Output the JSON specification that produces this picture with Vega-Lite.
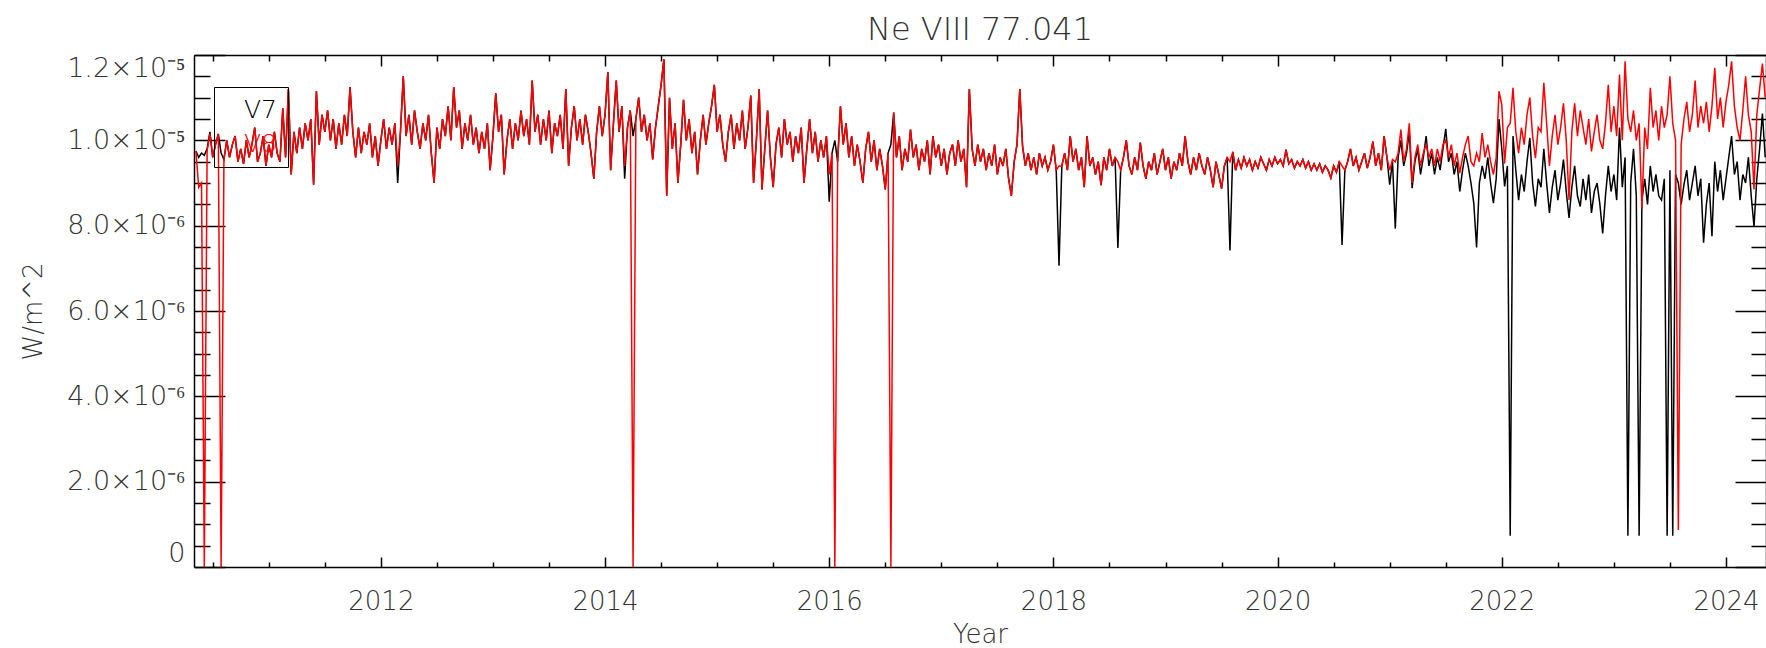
{
"$schema": "https://vega.github.io/schema/vega-lite/v6.json",
"autosize": {"type": "none"},
"padding": {"left": 194, "top": 55, "right": 0, "bottom": 81},
"width": 1572,
"height": 512,
"background": "white",
"config": {"view": {"stroke": null}},
"title": {"text": "Ne VIII 77.041", "fontSize": 32, "font": "DejaVu Sans", "fontWeight": 200, "color": "#333", "anchor": "middle", "offset": 7},
"data": {"values": [
{"t":2010.35,"V7":9.75,"V8":9.75},{"t":2010.375,"V7":9.6,"V8":8.9},{"t":2010.4,"V7":9.7,"V8":9.0},{"t":2010.425,"V7":9.65,"V8":0},{"t":2010.45,"V7":9.8,"V8":9.75},{"t":2010.475,"V7":10.2,"V8":10.15},{"t":2010.5,"V7":9.6,"V8":9.6},{"t":2010.525,"V7":9.9,"V8":9.9},{"t":2010.55,"V7":10.15,"V8":10.15},{"t":2010.575,"V7":9.7,"V8":0},
{"t":2010.6,"V7":9.55,"V8":9.55},{"t":2010.625,"V7":10.0,"V8":10.0},{"t":2010.65,"V7":9.6,"V8":9.6},{"t":2010.675,"V7":9.9,"V8":9.9},{"t":2010.7,"V7":10.1,"V8":10.1},{"t":2010.725,"V7":9.5,"V8":9.5},{"t":2010.75,"V7":9.8,"V8":9.8},{"t":2010.775,"V7":9.45,"V8":9.45},{"t":2010.8,"V7":10.0,"V8":10.0},{"t":2010.825,"V7":9.6,"V8":9.6},
{"t":2010.85,"V7":9.9,"V8":9.9},{"t":2010.875,"V7":10.3,"V8":10.3},{"t":2010.9,"V7":9.5,"V8":9.5},{"t":2010.925,"V7":9.7,"V8":9.7},{"t":2010.95,"V7":10.1,"V8":10.1},{"t":2010.975,"V7":9.4,"V8":9.4},{"t":2011.0,"V7":9.9,"V8":9.9},{"t":2011.025,"V7":9.6,"V8":9.6},{"t":2011.05,"V7":10.2,"V8":10.2},{"t":2011.075,"V7":9.7,"V8":9.7},
{"t":2011.1,"V7":9.5,"V8":9.5},{"t":2011.125,"V7":10.75,"V8":10.75},{"t":2011.15,"V7":9.6,"V8":9.6},{"t":2011.175,"V7":11.2,"V8":11.2},{"t":2011.2,"V7":9.2,"V8":9.2},{"t":2011.225,"V7":10.2,"V8":10.2},{"t":2011.25,"V7":9.7,"V8":9.7},{"t":2011.275,"V7":10.3,"V8":10.3},{"t":2011.3,"V7":9.8,"V8":9.8},{"t":2011.325,"V7":10.4,"V8":10.4},
{"t":2011.35,"V7":10.0,"V8":10.0},{"t":2011.375,"V7":10.5,"V8":10.5},{"t":2011.4,"V7":8.96,"V8":8.96},{"t":2011.425,"V7":11.15,"V8":11.15},{"t":2011.45,"V7":9.9,"V8":9.9},{"t":2011.475,"V7":10.6,"V8":10.6},{"t":2011.5,"V7":10.2,"V8":10.2},{"t":2011.525,"V7":10.7,"V8":10.7},{"t":2011.55,"V7":10.0,"V8":10.0},{"t":2011.575,"V7":10.5,"V8":10.5},
{"t":2011.6,"V7":9.8,"V8":9.8},{"t":2011.625,"V7":10.4,"V8":10.4},{"t":2011.65,"V7":9.9,"V8":9.9},{"t":2011.675,"V7":10.6,"V8":10.6},{"t":2011.7,"V7":10.1,"V8":10.1},{"t":2011.725,"V7":11.25,"V8":11.25},{"t":2011.75,"V7":10.2,"V8":10.2},{"t":2011.775,"V7":9.6,"V8":9.6},{"t":2011.8,"V7":10.3,"V8":10.3},{"t":2011.825,"V7":9.7,"V8":9.7},
{"t":2011.85,"V7":10.2,"V8":10.2},{"t":2011.875,"V7":9.9,"V8":9.9},{"t":2011.9,"V7":10.4,"V8":10.4},{"t":2011.925,"V7":9.6,"V8":9.6},{"t":2011.95,"V7":10.1,"V8":10.1},{"t":2011.975,"V7":9.4,"V8":9.4},{"t":2012.0,"V7":10.0,"V8":10.0},{"t":2012.025,"V7":10.5,"V8":10.5},{"t":2012.05,"V7":9.8,"V8":9.8},{"t":2012.075,"V7":10.3,"V8":10.3},
{"t":2012.1,"V7":9.9,"V8":9.9},{"t":2012.125,"V7":10.4,"V8":10.4},{"t":2012.15,"V7":9.0,"V8":9.4},{"t":2012.175,"V7":10.2,"V8":10.2},{"t":2012.2,"V7":11.5,"V8":11.5},{"t":2012.225,"V7":10.1,"V8":10.1},{"t":2012.25,"V7":10.6,"V8":10.6},{"t":2012.275,"V7":9.9,"V8":9.9},{"t":2012.3,"V7":10.7,"V8":10.7},{"t":2012.325,"V7":10.2,"V8":10.2},
{"t":2012.35,"V7":9.8,"V8":9.8},{"t":2012.375,"V7":10.4,"V8":10.4},{"t":2012.4,"V7":10.0,"V8":10.0},{"t":2012.425,"V7":10.6,"V8":10.6},{"t":2012.45,"V7":9.7,"V8":9.7},{"t":2012.475,"V7":9.0,"V8":9.0},{"t":2012.5,"V7":10.3,"V8":10.3},{"t":2012.525,"V7":9.8,"V8":9.8},{"t":2012.55,"V7":10.5,"V8":10.5},{"t":2012.575,"V7":10.1,"V8":10.1},
{"t":2012.6,"V7":10.8,"V8":10.8},{"t":2012.625,"V7":10.0,"V8":10.0},{"t":2012.65,"V7":11.25,"V8":11.25},{"t":2012.675,"V7":10.3,"V8":10.3},{"t":2012.7,"V7":10.7,"V8":10.7},{"t":2012.725,"V7":9.8,"V8":9.8},{"t":2012.75,"V7":10.4,"V8":10.4},{"t":2012.775,"V7":10.0,"V8":10.0},{"t":2012.8,"V7":10.6,"V8":10.6},{"t":2012.825,"V7":9.9,"V8":9.9},
{"t":2012.85,"V7":10.3,"V8":10.3},{"t":2012.875,"V7":9.7,"V8":9.7},{"t":2012.9,"V7":10.2,"V8":10.2},{"t":2012.925,"V7":9.8,"V8":9.8},{"t":2012.95,"V7":10.4,"V8":10.4},{"t":2012.975,"V7":9.3,"V8":9.3},{"t":2013.0,"V7":10.1,"V8":10.1},{"t":2013.025,"V7":11.1,"V8":11.1},{"t":2013.05,"V7":10.2,"V8":10.2},{"t":2013.075,"V7":10.6,"V8":10.6},
{"t":2013.1,"V7":9.2,"V8":9.2},{"t":2013.125,"V7":10.0,"V8":10.0},{"t":2013.15,"V7":10.5,"V8":10.5},{"t":2013.175,"V7":9.8,"V8":9.8},{"t":2013.2,"V7":10.4,"V8":10.4},{"t":2013.225,"V7":10.0,"V8":10.0},{"t":2013.25,"V7":10.7,"V8":10.7},{"t":2013.275,"V7":10.1,"V8":10.1},{"t":2013.3,"V7":10.5,"V8":10.5},{"t":2013.325,"V7":9.9,"V8":9.9},
{"t":2013.35,"V7":11.4,"V8":11.4},{"t":2013.375,"V7":10.2,"V8":10.2},{"t":2013.4,"V7":10.6,"V8":10.6},{"t":2013.425,"V7":9.9,"V8":9.9},{"t":2013.45,"V7":10.5,"V8":10.5},{"t":2013.475,"V7":10.0,"V8":10.0},{"t":2013.5,"V7":10.7,"V8":10.7},{"t":2013.525,"V7":9.7,"V8":9.7},{"t":2013.55,"V7":10.4,"V8":10.4},{"t":2013.575,"V7":10.1,"V8":10.1},
{"t":2013.6,"V7":10.6,"V8":10.6},{"t":2013.625,"V7":9.8,"V8":9.8},{"t":2013.65,"V7":11.2,"V8":11.2},{"t":2013.675,"V7":9.4,"V8":9.4},{"t":2013.7,"V7":10.3,"V8":10.3},{"t":2013.725,"V7":10.8,"V8":10.8},{"t":2013.75,"V7":10.0,"V8":10.0},{"t":2013.775,"V7":10.5,"V8":10.5},{"t":2013.8,"V7":9.9,"V8":9.9},{"t":2013.825,"V7":10.6,"V8":10.6},
{"t":2013.85,"V7":10.2,"V8":10.2},{"t":2013.875,"V7":9.7,"V8":9.7},{"t":2013.9,"V7":9.1,"V8":9.1},{"t":2013.925,"V7":10.2,"V8":10.2},{"t":2013.95,"V7":10.8,"V8":10.8},{"t":2013.975,"V7":10.1,"V8":10.1},{"t":2014.0,"V7":10.6,"V8":10.6},{"t":2014.025,"V7":11.6,"V8":11.6},{"t":2014.05,"V7":9.3,"V8":9.3},{"t":2014.075,"V7":10.4,"V8":10.4},
{"t":2014.1,"V7":11.4,"V8":11.4},{"t":2014.125,"V7":10.2,"V8":10.2},{"t":2014.15,"V7":10.8,"V8":10.8},{"t":2014.175,"V7":9.1,"V8":9.4},{"t":2014.2,"V7":10.3,"V8":10.3},{"t":2014.225,"V7":10.7,"V8":10.7},{"t":2014.25,"V7":10.1,"V8":0},{"t":2014.275,"V7":10.5,"V8":10.5},{"t":2014.3,"V7":11.0,"V8":11.0},{"t":2014.325,"V7":10.2,"V8":10.2},
{"t":2014.35,"V7":10.6,"V8":10.6},{"t":2014.375,"V7":10.0,"V8":10.0},{"t":2014.4,"V7":10.4,"V8":10.4},{"t":2014.425,"V7":9.55,"V8":9.55},{"t":2014.45,"V7":10.3,"V8":10.3},{"t":2014.475,"V7":10.8,"V8":10.8},{"t":2014.5,"V7":11.3,"V8":11.3},{"t":2014.525,"V7":11.9,"V8":11.9},{"t":2014.55,"V7":8.7,"V8":8.7},{"t":2014.575,"V7":11.0,"V8":11.0},
{"t":2014.6,"V7":9.8,"V8":9.8},{"t":2014.625,"V7":10.4,"V8":10.4},{"t":2014.65,"V7":9.0,"V8":9.0},{"t":2014.675,"V7":9.9,"V8":9.9},{"t":2014.7,"V7":10.95,"V8":10.95},{"t":2014.725,"V7":10.0,"V8":10.0},{"t":2014.75,"V7":10.5,"V8":10.5},{"t":2014.775,"V7":9.7,"V8":9.7},{"t":2014.8,"V7":10.2,"V8":10.2},{"t":2014.825,"V7":9.2,"V8":9.2},
{"t":2014.85,"V7":10.0,"V8":10.0},{"t":2014.875,"V7":10.6,"V8":10.6},{"t":2014.9,"V7":9.9,"V8":9.9},{"t":2014.925,"V7":10.4,"V8":10.4},{"t":2014.95,"V7":10.8,"V8":10.8},{"t":2014.975,"V7":11.3,"V8":11.3},{"t":2015.0,"V7":10.2,"V8":10.2},{"t":2015.025,"V7":10.6,"V8":10.6},{"t":2015.05,"V7":9.9,"V8":9.9},{"t":2015.075,"V7":9.5,"V8":9.5},
{"t":2015.1,"V7":10.2,"V8":10.2},{"t":2015.125,"V7":10.6,"V8":10.6},{"t":2015.15,"V7":9.8,"V8":9.8},{"t":2015.175,"V7":10.4,"V8":10.4},{"t":2015.2,"V7":10.0,"V8":10.0},{"t":2015.225,"V7":10.7,"V8":10.7},{"t":2015.25,"V7":9.8,"V8":9.8},{"t":2015.275,"V7":10.3,"V8":10.3},{"t":2015.3,"V7":11.05,"V8":11.05},{"t":2015.325,"V7":9.0,"V8":9.0},
{"t":2015.35,"V7":10.0,"V8":10.0},{"t":2015.375,"V7":11.2,"V8":11.2},{"t":2015.4,"V7":8.85,"V8":8.85},{"t":2015.425,"V7":9.8,"V8":9.8},{"t":2015.45,"V7":10.7,"V8":10.7},{"t":2015.475,"V7":9.6,"V8":9.6},{"t":2015.5,"V7":8.9,"V8":8.9},{"t":2015.525,"V7":9.9,"V8":9.9},{"t":2015.55,"V7":10.3,"V8":10.3},{"t":2015.575,"V7":9.6,"V8":9.6},
{"t":2015.6,"V7":10.5,"V8":10.5},{"t":2015.625,"V7":9.9,"V8":9.9},{"t":2015.65,"V7":10.2,"V8":10.2},{"t":2015.675,"V7":9.5,"V8":9.5},{"t":2015.7,"V7":10.1,"V8":10.1},{"t":2015.725,"V7":9.7,"V8":9.7},{"t":2015.75,"V7":10.3,"V8":10.3},{"t":2015.775,"V7":9.0,"V8":9.0},{"t":2015.8,"V7":9.8,"V8":9.8},{"t":2015.825,"V7":10.5,"V8":10.5},
{"t":2015.85,"V7":9.7,"V8":9.7},{"t":2015.875,"V7":10.2,"V8":10.2},{"t":2015.9,"V7":9.5,"V8":9.5},{"t":2015.925,"V7":10.0,"V8":10.0},{"t":2015.95,"V7":9.6,"V8":9.6},{"t":2015.975,"V7":10.1,"V8":10.1},{"t":2016.0,"V7":8.56,"V8":9.2},{"t":2016.025,"V7":9.7,"V8":9.7},{"t":2016.05,"V7":10.0,"V8":0},{"t":2016.075,"V7":9.5,"V8":9.5},
{"t":2016.1,"V7":10.8,"V8":10.8},{"t":2016.125,"V7":9.9,"V8":9.9},{"t":2016.15,"V7":10.4,"V8":10.4},{"t":2016.175,"V7":9.6,"V8":9.6},{"t":2016.2,"V7":10.1,"V8":10.1},{"t":2016.225,"V7":9.4,"V8":9.4},{"t":2016.25,"V7":9.9,"V8":9.9},{"t":2016.275,"V7":9.5,"V8":9.5},{"t":2016.3,"V7":9.0,"V8":9.0},{"t":2016.325,"V7":9.8,"V8":9.8},
{"t":2016.35,"V7":10.2,"V8":10.2},{"t":2016.375,"V7":9.5,"V8":9.5},{"t":2016.4,"V7":10.0,"V8":10.0},{"t":2016.425,"V7":9.3,"V8":9.3},{"t":2016.45,"V7":9.8,"V8":9.8},{"t":2016.475,"V7":9.4,"V8":9.4},{"t":2016.5,"V7":8.85,"V8":8.85},{"t":2016.525,"V7":9.7,"V8":9.7},{"t":2016.55,"V7":9.9,"V8":0},{"t":2016.575,"V7":10.65,"V8":10.65},
{"t":2016.6,"V7":9.6,"V8":9.6},{"t":2016.625,"V7":10.1,"V8":10.1},{"t":2016.65,"V7":9.3,"V8":9.3},{"t":2016.675,"V7":9.8,"V8":9.8},{"t":2016.7,"V7":9.5,"V8":9.5},{"t":2016.725,"V7":10.25,"V8":10.25},{"t":2016.75,"V7":9.6,"V8":9.6},{"t":2016.775,"V7":9.9,"V8":9.9},{"t":2016.8,"V7":9.3,"V8":9.3},{"t":2016.825,"V7":9.8,"V8":9.8},
{"t":2016.85,"V7":9.5,"V8":9.5},{"t":2016.875,"V7":10.0,"V8":10.0},{"t":2016.9,"V7":9.2,"V8":9.2},{"t":2016.925,"V7":10.1,"V8":10.1},{"t":2016.95,"V7":9.6,"V8":9.6},{"t":2016.975,"V7":9.9,"V8":9.9},{"t":2017.0,"V7":9.4,"V8":9.4},{"t":2017.025,"V7":9.8,"V8":9.8},{"t":2017.05,"V7":9.2,"V8":9.2},{"t":2017.075,"V7":9.7,"V8":9.7},
{"t":2017.1,"V7":9.9,"V8":9.9},{"t":2017.125,"V7":9.4,"V8":9.4},{"t":2017.15,"V7":10.0,"V8":10.0},{"t":2017.175,"V7":9.5,"V8":9.5},{"t":2017.2,"V7":9.8,"V8":9.8},{"t":2017.225,"V7":8.9,"V8":8.9},{"t":2017.25,"V7":11.2,"V8":11.2},{"t":2017.275,"V7":9.8,"V8":9.8},{"t":2017.3,"V7":9.4,"V8":9.4},{"t":2017.325,"V7":9.9,"V8":9.9},
{"t":2017.35,"V7":9.5,"V8":9.5},{"t":2017.375,"V7":9.8,"V8":9.8},{"t":2017.4,"V7":9.3,"V8":9.3},{"t":2017.425,"V7":9.7,"V8":9.7},{"t":2017.45,"V7":9.4,"V8":9.4},{"t":2017.475,"V7":9.9,"V8":9.9},{"t":2017.5,"V7":9.2,"V8":9.2},{"t":2017.525,"V7":9.6,"V8":9.6},{"t":2017.55,"V7":9.4,"V8":9.4},{"t":2017.575,"V7":9.8,"V8":9.8},
{"t":2017.6,"V7":9.1,"V8":9.1},{"t":2017.625,"V7":8.7,"V8":8.7},{"t":2017.65,"V7":9.5,"V8":9.5},{"t":2017.675,"V7":9.9,"V8":9.9},{"t":2017.7,"V7":11.2,"V8":11.2},{"t":2017.725,"V7":9.85,"V8":9.85},{"t":2017.75,"V7":9.4,"V8":9.4},{"t":2017.775,"V7":9.7,"V8":9.7},{"t":2017.8,"V7":9.3,"V8":9.3},{"t":2017.825,"V7":9.6,"V8":9.6},
{"t":2017.85,"V7":9.2,"V8":9.2},{"t":2017.875,"V7":9.7,"V8":9.7},{"t":2017.9,"V7":9.4,"V8":9.4},{"t":2017.925,"V7":9.6,"V8":9.6},{"t":2017.95,"V7":9.3,"V8":9.3},{"t":2017.975,"V7":9.5,"V8":9.5},{"t":2018.0,"V7":9.9,"V8":9.9},{"t":2018.025,"V7":9.3,"V8":9.3},{"t":2018.05,"V7":7.06,"V8":9.4},{"t":2018.075,"V7":9.4,"V8":9.4},
{"t":2018.1,"V7":9.7,"V8":9.7},{"t":2018.125,"V7":9.3,"V8":9.3},{"t":2018.15,"V7":10.1,"V8":10.1},{"t":2018.175,"V7":9.5,"V8":9.5},{"t":2018.2,"V7":9.8,"V8":9.8},{"t":2018.225,"V7":9.3,"V8":9.3},{"t":2018.25,"V7":9.6,"V8":9.6},{"t":2018.275,"V7":8.9,"V8":8.9},{"t":2018.3,"V7":10.1,"V8":10.1},{"t":2018.325,"V7":9.4,"V8":9.4},
{"t":2018.35,"V7":9.6,"V8":9.6},{"t":2018.375,"V7":9.2,"V8":9.2},{"t":2018.4,"V7":9.5,"V8":9.5},{"t":2018.425,"V7":8.95,"V8":8.95},{"t":2018.45,"V7":9.6,"V8":9.6},{"t":2018.475,"V7":9.3,"V8":9.3},{"t":2018.5,"V7":9.8,"V8":9.8},{"t":2018.525,"V7":9.4,"V8":9.4},{"t":2018.55,"V7":9.6,"V8":9.6},{"t":2018.575,"V7":7.48,"V8":9.5},
{"t":2018.6,"V7":9.3,"V8":9.3},{"t":2018.625,"V7":9.6,"V8":9.6},{"t":2018.65,"V7":10.0,"V8":10.0},{"t":2018.675,"V7":9.4,"V8":9.4},{"t":2018.7,"V7":9.2,"V8":9.2},{"t":2018.725,"V7":9.6,"V8":9.6},{"t":2018.75,"V7":9.3,"V8":9.3},{"t":2018.775,"V7":9.95,"V8":9.95},{"t":2018.8,"V7":9.4,"V8":9.4},{"t":2018.825,"V7":9.1,"V8":9.1},
{"t":2018.85,"V7":9.5,"V8":9.5},{"t":2018.875,"V7":9.3,"V8":9.3},{"t":2018.9,"V7":9.7,"V8":9.7},{"t":2018.925,"V7":9.2,"V8":9.2},{"t":2018.95,"V7":9.5,"V8":9.5},{"t":2018.975,"V7":9.8,"V8":9.8},{"t":2019.0,"V7":9.3,"V8":9.3},{"t":2019.025,"V7":9.6,"V8":9.6},{"t":2019.05,"V7":9.1,"V8":9.1},{"t":2019.075,"V7":9.5,"V8":9.5},
{"t":2019.1,"V7":9.3,"V8":9.3},{"t":2019.125,"V7":9.7,"V8":9.7},{"t":2019.15,"V7":9.4,"V8":9.4},{"t":2019.175,"V7":10.1,"V8":10.1},{"t":2019.2,"V7":9.5,"V8":9.5},{"t":2019.225,"V7":9.2,"V8":9.2},{"t":2019.25,"V7":9.6,"V8":9.6},{"t":2019.275,"V7":9.3,"V8":9.3},{"t":2019.3,"V7":9.7,"V8":9.7},{"t":2019.325,"V7":9.4,"V8":9.4},
{"t":2019.35,"V7":9.2,"V8":9.2},{"t":2019.375,"V7":9.6,"V8":9.6},{"t":2019.4,"V7":9.3,"V8":9.3},{"t":2019.425,"V7":8.9,"V8":8.9},{"t":2019.45,"V7":9.5,"V8":9.5},{"t":2019.475,"V7":9.2,"V8":9.2},{"t":2019.5,"V7":8.87,"V8":8.87},{"t":2019.525,"V7":9.4,"V8":9.4},{"t":2019.55,"V7":9.6,"V8":9.6},{"t":2019.575,"V7":7.42,"V8":9.5},
{"t":2019.6,"V7":9.73,"V8":9.73},{"t":2019.625,"V7":9.3,"V8":9.3},{"t":2019.65,"V7":9.55,"V8":9.55},{"t":2019.675,"V7":9.35,"V8":9.35},{"t":2019.7,"V7":9.6,"V8":9.6},{"t":2019.725,"V7":9.4,"V8":9.4},{"t":2019.75,"V7":9.55,"V8":9.55},{"t":2019.775,"V7":9.3,"V8":9.3},{"t":2019.8,"V7":9.5,"V8":9.5},{"t":2019.825,"V7":9.35,"V8":9.35},
{"t":2019.85,"V7":9.6,"V8":9.6},{"t":2019.875,"V7":9.45,"V8":9.45},{"t":2019.9,"V7":9.3,"V8":9.3},{"t":2019.925,"V7":9.55,"V8":9.55},{"t":2019.95,"V7":9.4,"V8":9.4},{"t":2019.975,"V7":9.6,"V8":9.6},{"t":2020.0,"V7":9.45,"V8":9.45},{"t":2020.025,"V7":9.55,"V8":9.55},{"t":2020.05,"V7":9.4,"V8":9.4},{"t":2020.075,"V7":9.78,"V8":9.78},
{"t":2020.1,"V7":9.45,"V8":9.45},{"t":2020.125,"V7":9.55,"V8":9.55},{"t":2020.15,"V7":9.35,"V8":9.35},{"t":2020.175,"V7":9.5,"V8":9.5},{"t":2020.2,"V7":9.4,"V8":9.4},{"t":2020.225,"V7":9.55,"V8":9.55},{"t":2020.25,"V7":9.35,"V8":9.35},{"t":2020.275,"V7":9.5,"V8":9.5},{"t":2020.3,"V7":9.3,"V8":9.3},{"t":2020.325,"V7":9.45,"V8":9.45},
{"t":2020.35,"V7":9.3,"V8":9.3},{"t":2020.375,"V7":9.45,"V8":9.45},{"t":2020.4,"V7":9.25,"V8":9.25},{"t":2020.425,"V7":9.4,"V8":9.4},{"t":2020.45,"V7":9.3,"V8":9.3},{"t":2020.475,"V7":9.12,"V8":9.12},{"t":2020.5,"V7":9.4,"V8":9.4},{"t":2020.525,"V7":9.25,"V8":9.25},{"t":2020.55,"V7":9.5,"V8":9.5},{"t":2020.575,"V7":7.55,"V8":9.4},
{"t":2020.6,"V7":9.3,"V8":9.3},{"t":2020.625,"V7":9.5,"V8":9.5},{"t":2020.65,"V7":9.8,"V8":9.8},{"t":2020.675,"V7":9.4,"V8":9.4},{"t":2020.7,"V7":9.6,"V8":9.6},{"t":2020.725,"V7":9.3,"V8":9.3},{"t":2020.75,"V7":9.5,"V8":9.5},{"t":2020.775,"V7":9.7,"V8":9.7},{"t":2020.8,"V7":9.35,"V8":9.35},{"t":2020.825,"V7":9.6,"V8":9.6},
{"t":2020.85,"V7":9.97,"V8":9.97},{"t":2020.875,"V7":9.4,"V8":9.4},{"t":2020.9,"V7":9.7,"V8":9.7},{"t":2020.925,"V7":9.3,"V8":9.3},{"t":2020.95,"V7":10.1,"V8":10.1},{"t":2020.975,"V7":9.6,"V8":9.6},{"t":2021.0,"V7":8.96,"V8":9.3},{"t":2021.025,"V7":9.5,"V8":9.55},{"t":2021.05,"V7":7.93,"V8":9.5},{"t":2021.075,"V7":9.6,"V8":9.7},
{"t":2021.1,"V7":10.0,"V8":10.25},{"t":2021.125,"V7":9.4,"V8":9.5},{"t":2021.15,"V7":9.7,"V8":9.8},{"t":2021.175,"V7":10.2,"V8":10.4},{"t":2021.2,"V7":8.88,"V8":9.0},{"t":2021.225,"V7":9.5,"V8":9.6},{"t":2021.25,"V7":9.8,"V8":9.9},{"t":2021.275,"V7":9.2,"V8":9.4},{"t":2021.3,"V7":9.6,"V8":9.7},{"t":2021.325,"V7":10.1,"V8":9.9},
{"t":2021.35,"V7":9.4,"V8":9.6},{"t":2021.375,"V7":9.7,"V8":9.8},{"t":2021.4,"V7":9.2,"V8":9.4},{"t":2021.425,"V7":9.6,"V8":9.8},{"t":2021.45,"V7":9.3,"V8":9.5},{"t":2021.475,"V7":9.8,"V8":9.9},{"t":2021.5,"V7":10.27,"V8":10.0},{"t":2021.525,"V7":9.5,"V8":9.6},{"t":2021.55,"V7":9.7,"V8":9.9},{"t":2021.575,"V7":9.2,"V8":9.4},
{"t":2021.6,"V7":9.5,"V8":9.7},{"t":2021.625,"V7":8.8,"V8":9.23},{"t":2021.65,"V7":9.3,"V8":9.6},{"t":2021.675,"V7":9.7,"V8":9.9},{"t":2021.7,"V7":9.4,"V8":10.1},{"t":2021.725,"V7":9.0,"V8":9.5},{"t":2021.75,"V7":8.53,"V8":9.4},{"t":2021.775,"V7":7.49,"V8":9.7},{"t":2021.8,"V7":9.0,"V8":9.5},{"t":2021.825,"V7":9.4,"V8":10.17},
{"t":2021.85,"V7":9.1,"V8":9.6},{"t":2021.875,"V7":9.6,"V8":9.9},{"t":2021.9,"V7":9.0,"V8":9.5},{"t":2021.925,"V7":8.53,"V8":9.2},{"t":2021.95,"V7":9.1,"V8":9.6},{"t":2021.975,"V7":10.5,"V8":11.15},{"t":2022.0,"V7":9.8,"V8":10.83},{"t":2022.025,"V7":8.92,"V8":9.46},{"t":2022.05,"V7":9.4,"V8":10.3},{"t":2022.075,"V7":0.73,"V8":10.4},
{"t":2022.1,"V7":10.1,"V8":11.23},{"t":2022.125,"V7":9.3,"V8":10.2},{"t":2022.15,"V7":8.6,"V8":9.7},{"t":2022.175,"V7":9.2,"V8":10.3},{"t":2022.2,"V7":8.8,"V8":9.9},{"t":2022.225,"V7":9.5,"V8":10.6},{"t":2022.25,"V7":10.06,"V8":11.0},{"t":2022.275,"V7":9.0,"V8":10.1},{"t":2022.3,"V7":8.45,"V8":9.58},{"t":2022.325,"V7":9.1,"V8":10.3},
{"t":2022.35,"V7":8.9,"V8":10.2},{"t":2022.375,"V7":9.8,"V8":11.35},{"t":2022.4,"V7":9.0,"V8":10.4},{"t":2022.425,"V7":8.3,"V8":9.4},{"t":2022.45,"V7":8.9,"V8":10.1},{"t":2022.475,"V7":9.3,"V8":10.6},{"t":2022.5,"V7":8.6,"V8":9.9},{"t":2022.525,"V7":9.0,"V8":10.3},{"t":2022.55,"V7":9.55,"V8":10.87},{"t":2022.575,"V7":8.8,"V8":10.0},
{"t":2022.6,"V7":8.18,"V8":8.6},{"t":2022.625,"V7":8.9,"V8":10.2},{"t":2022.65,"V7":9.4,"V8":10.87},{"t":2022.675,"V7":8.7,"V8":10.1},{"t":2022.7,"V7":8.45,"V8":10.7},{"t":2022.725,"V7":9.1,"V8":10.3},{"t":2022.75,"V7":8.6,"V8":9.9},{"t":2022.775,"V7":9.2,"V8":10.5},{"t":2022.8,"V7":8.3,"V8":9.74},{"t":2022.825,"V7":8.8,"V8":10.2},
{"t":2022.85,"V7":9.0,"V8":10.6},{"t":2022.875,"V7":8.5,"V8":10.0},{"t":2022.9,"V7":7.82,"V8":9.8},{"t":2022.925,"V7":8.7,"V8":10.4},{"t":2022.95,"V7":9.4,"V8":11.3},{"t":2022.975,"V7":8.8,"V8":10.2},{"t":2023.0,"V7":9.2,"V8":10.8},{"t":2023.025,"V7":8.6,"V8":10.1},{"t":2023.05,"V7":10.3,"V8":11.54},{"t":2023.075,"V7":8.9,"V8":10.0},
{"t":2023.1,"V7":9.6,"V8":11.85},{"t":2023.125,"V7":0.73,"V8":10.5},{"t":2023.15,"V7":9.0,"V8":10.2},{"t":2023.175,"V7":9.8,"V8":10.7},{"t":2023.2,"V7":8.7,"V8":10.0},{"t":2023.225,"V7":0.73,"V8":10.4},{"t":2023.25,"V7":8.6,"V8":8.4},{"t":2023.275,"V7":9.1,"V8":10.3},{"t":2023.3,"V7":8.5,"V8":9.8},{"t":2023.325,"V7":9.4,"V8":11.23},
{"t":2023.35,"V7":8.8,"V8":10.3},{"t":2023.375,"V7":9.2,"V8":10.7},{"t":2023.4,"V7":8.7,"V8":10.0},{"t":2023.425,"V7":8.6,"V8":10.8},{"t":2023.45,"V7":9.1,"V8":10.3},{"t":2023.475,"V7":0.73,"V8":10.6},{"t":2023.5,"V7":9.3,"V8":11.5},{"t":2023.525,"V7":0.73,"V8":10.4},{"t":2023.55,"V7":9.2,"V8":10.0},{"t":2023.575,"V7":9.0,"V8":0.87},
{"t":2023.6,"V7":8.5,"V8":9.9},{"t":2023.625,"V7":8.96,"V8":10.5},{"t":2023.65,"V7":9.3,"V8":10.9},{"t":2023.675,"V7":8.6,"V8":10.2},{"t":2023.7,"V7":9.0,"V8":10.6},{"t":2023.725,"V7":9.4,"V8":11.4},{"t":2023.75,"V7":8.7,"V8":10.3},{"t":2023.775,"V7":9.1,"V8":10.8},{"t":2023.8,"V7":7.6,"V8":10.4},{"t":2023.825,"V7":8.5,"V8":10.9},
{"t":2023.85,"V7":9.0,"V8":10.2},{"t":2023.875,"V7":7.75,"V8":10.8},{"t":2023.9,"V7":9.5,"V8":11.7},{"t":2023.925,"V7":8.8,"V8":10.5},{"t":2023.95,"V7":9.3,"V8":11.0},{"t":2023.975,"V7":8.6,"V8":10.3},{"t":2024.0,"V7":9.1,"V8":10.9},{"t":2024.025,"V7":9.6,"V8":11.3},{"t":2024.05,"V7":10.1,"V8":11.85},{"t":2024.075,"V7":9.2,"V8":10.8},
{"t":2024.1,"V7":9.5,"V8":10.3},{"t":2024.125,"V7":8.6,"V8":10.0},{"t":2024.15,"V7":9.2,"V8":10.7},{"t":2024.175,"V7":9.0,"V8":11.5},{"t":2024.2,"V7":9.6,"V8":10.6},{"t":2024.225,"V7":8.7,"V8":10.2},{"t":2024.25,"V7":7.98,"V8":8.85},{"t":2024.275,"V7":9.1,"V8":10.6},{"t":2024.3,"V7":9.8,"V8":11.2},{"t":2024.325,"V7":10.63,"V8":11.8},
{"t":2024.35,"V7":9.6,"V8":11.0}
]},
"transform": [{"fold": ["V7", "V8"], "as": ["version", "flux"]}],
"layer": [
{
"mark": {"type": "line", "strokeWidth": 1.5, "clip": true},
"encoding": {
"x": {"field": "t", "type": "quantitative",
 "scale": {"domain": [2010.333, 2024.357], "nice": false, "zero": false},
 "axis": {"orient": "bottom", "title": "Year",
  "values": [2010.5,2011,2011.5,2012,2012.5,2013,2013.5,2014,2014.5,2015,2015.5,2016,2016.5,2017,2017.5,2018,2018.5,2019,2019.5,2020,2020.5,2021,2021.5,2022,2022.5,2023,2023.5,2024],
  "labelExpr": "datum.value % 2 === 0 ? '' + datum.value : ''",
  "tickSize": {"condition": {"test": "datum.value % 2 === 0", "value": -10}, "value": -5},
  "labelPadding": 31, "grid": false, "domainColor": "#000", "domainWidth": 1.5, "tickColor": "#000", "tickWidth": 1.5,
  "labelFont": "DejaVu Sans", "labelFontWeight": 200, "labelFontSize": 26, "labelColor": "#333", "labelFlush": false, "labelOverlap": false, "labelBound": false,
  "titleFont": "DejaVu Sans", "titleFontWeight": 200, "titleFontSize": 26, "titleColor": "#333", "titleX": 786, "titleY": 75, "titleBaseline": "alphabetic", "titleAnchor": null, "titleAlign": "center"}},
"y": {"field": "flux", "type": "quantitative",
 "scale": {"domain": [0, 12], "nice": false, "zero": false},
 "axis": {"orient": "left", "title": "W/m^2",
  "values": [0,0.5,1,1.5,2,2.5,3,3.5,4,4.5,5,5.5,6,6.5,7,7.5,8,8.5,9,9.5,10,10.5,11,11.5,12],
  "labelExpr": "datum.value === 0 ? '0' : (datum.value % 2 !== 0 ? '' : (datum.value >= 10 ? format(datum.value / 10, '.1f') + '×10⁻⁵' : format(datum.value, '.1f') + '×10⁻⁶'))",
  "tickSize": {"condition": {"test": "datum.value % 2 === 0", "value": -31}, "value": -16},
  "labelPadding": 40, "grid": false, "domainColor": "#000", "domainWidth": 1.5, "tickColor": "#000", "tickWidth": 1.5,
  "labelFont": "DejaVu Sans", "labelFontWeight": 200, "labelFontSize": 27, "labelColor": "#333", "labelFlush": true, "labelOverlap": false, "labelBound": false,
  "titleFont": "DejaVu Sans", "titleFontWeight": 200, "titleFontSize": 26, "titleColor": "#333", "titleX": -153, "titleY": 256, "titleBaseline": "alphabetic", "titleAngle": 270, "titleAlign": "center"}},
"color": {"field": "version", "type": "nominal",
 "scale": {"domain": ["V7", "V8"], "range": ["#000000", "#ff0000"]},
 "legend": {"orient": "none", "legendX": 20, "legendY": 32, "title": null, "direction": "vertical",
  "strokeColor": "#000", "padding": 10, "symbolOpacity": 0, "symbolSize": 4, "labelOffset": -5, "rowPadding": 8,
  "labelFont": "DejaVu Sans", "labelFontWeight": 200, "labelFontSize": 25, "labelLimit": 0,
  "encode": {"labels": {"update": {"fill": {"signal": "datum.value === 'V8' ? '#ff0000' : '#000000'"}}}}}}
}
},
{
"mark": {"type": "point", "opacity": 0},
"encoding": {
"x": {"field": "t", "type": "quantitative",
 "scale": {"domain": [2010.333, 2024.357], "nice": false, "zero": false},
 "axis": {"orient": "top", "title": null, "labels": false,
  "values": [2010.5,2011,2011.5,2012,2012.5,2013,2013.5,2014,2014.5,2015,2015.5,2016,2016.5,2017,2017.5,2018,2018.5,2019,2019.5,2020,2020.5,2021,2021.5,2022,2022.5,2023,2023.5,2024],
  "tickSize": {"condition": {"test": "datum.value % 2 === 0", "value": -11}, "value": -6},
  "grid": false, "domainColor": "#000", "domainWidth": 1.5, "tickColor": "#000", "tickWidth": 1.5}},
"y": {"field": "flux", "type": "quantitative",
 "scale": {"domain": [0, 12], "nice": false, "zero": false},
 "axis": {"orient": "right", "title": null, "labels": false,
  "values": [0,0.5,1,1.5,2,2.5,3,3.5,4,4.5,5,5.5,6,6.5,7,7.5,8,8.5,9,9.5,10,10.5,11,11.5,12],
  "tickSize": {"condition": {"test": "datum.value % 2 === 0", "value": -31}, "value": -15},
  "grid": false, "domainColor": "#000", "domainWidth": 1.5, "tickColor": "#000", "tickWidth": 1.5}}
}
}
],
"resolve": {"axis": {"x": "independent", "y": "independent"}}
}
